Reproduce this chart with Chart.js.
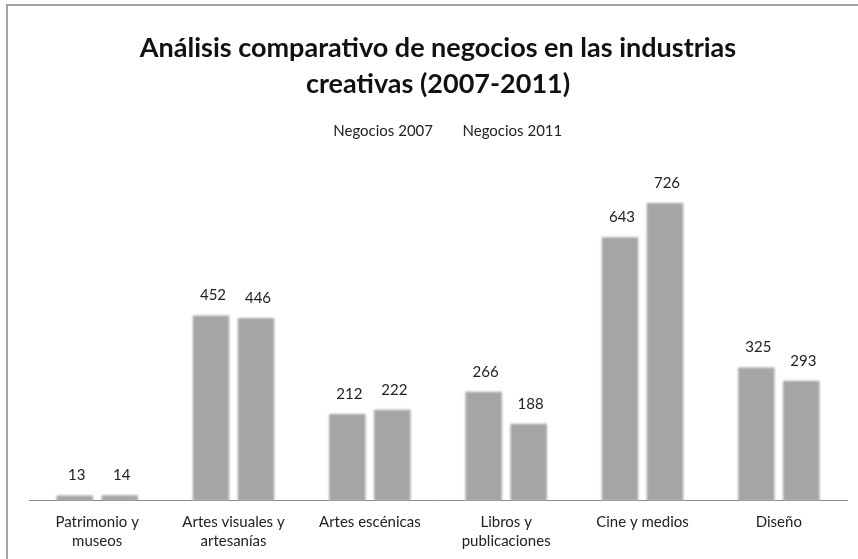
<!DOCTYPE html>
<html>
<head>
<meta charset="utf-8">
<script src="https://cdn.jsdelivr.net/npm/chart.js@4/dist/chart.umd.min.js"></script>
<style>
  html, body { margin: 0; padding: 0; background: #fff; }
  #wrap { width: 858px; height: 559px; }
</style>
</head>
<body>
<div id="wrap"><canvas id="chart" width="858" height="559"></canvas></div>
<script>
const categories = [
    ['Patrimonio y', 'museos'],
    ['Artes visuales y', 'artesanías'],
    'Artes escénicas',
    ['Libros y', 'publicaciones'],
    'Cine y medios',
    'Diseño',
];
const negocios2007 = [13, 452, 212, 266, 643, 325];
const negocios2011 = [14, 446, 222, 188, 726, 293];
const seriesNames = ['Negocios 2007', 'Negocios 2011'];
const titleLines = [
    'Análisis comparativo de negocios en las industrias',
    'creativas (2007-2011)',
];

const font = 'Lato, "Open Sans", sans-serif';
const barGray = '#a5a5a5';

// Grey frame around the whole chart.
const frame = {
    id: 'frame',
    beforeDraw(chart) {
        const ctx = chart.ctx;
        ctx.save();
        ctx.strokeStyle = '#a3a3a3';
        ctx.lineWidth = 2;
        ctx.strokeRect(7, 5, chart.width + 10, chart.height + 10);
        ctx.restore();
    },
};

// Soft edges on the bars.
const softBars = {
    id: 'soft-bars',
    beforeDatasetsDraw(chart) {
        chart.ctx.save();
        chart.ctx.filter = 'blur(1.3px)';
    },
    afterDatasetsDraw(chart) {
        chart.ctx.restore();
    },
};

// Value labels above each bar.
const valueLabels = {
    id: 'value-labels',
    afterDatasetsDraw(chart) {
        const ctx = chart.ctx;
        ctx.save();
        ctx.font = `15px ${font}`;
        ctx.fillStyle = '#222';
        ctx.textAlign = 'center';
        ctx.textBaseline = 'middle';
        chart.data.datasets.forEach((ds, di) => {
            const md = chart.getDatasetMeta(di);
            md.data.forEach((bar, i) => {
                ctx.fillText(`${ds.data[i]}`, bar.x + 2, bar.y - 20);
            });
        });
        ctx.restore();
    },
};

new Chart(document.getElementById('chart'), {
    type: 'bar',
    data: {
        labels: categories,
        datasets: [
            {label: seriesNames[0], data: negocios2007, backgroundColor: barGray},
            {label: seriesNames[1], data: negocios2011, backgroundColor: barGray},
        ],
    },
    plugins: [frame, softBars, valueLabels],
    options: {
        responsive: false,
        animation: false,
        layout: {padding: {top: 30, left: 29, right: 11, bottom: -4}},
        datasets: {
            bar: {categoryPercentage: 0.66, barPercentage: 0.81},
        },
        scales: {
            x: {
                grid: {display: false, drawTicks: false},
                border: {display: true, color: '#8c8c8c', width: 1},
                ticks: {
                    color: '#222', padding: 12, maxRotation: 0, autoSkip: false,
                    font: {family: font, size: 15, lineHeight: 1.27},
                },
            },
            y: {display: false, min: 0, max: 858},
        },
        plugins: {
            title: {
                display: true,
                text: titleLines,
                color: '#111',
                padding: {top: 0, bottom: 12},
                font: {family: font, size: 27, weight: 'bold', lineHeight: 1.333},
            },
            legend: {
                display: true,
                labels: {
                    color: '#222', boxWidth: 12, padding: 10,
                    font: {family: font, size: 15},
                    generateLabels(chart) {
                        const items = Chart.defaults.plugins.legend.labels
                            .generateLabels(chart);
                        for (const it of items) {
                            it.fillStyle = 'rgba(0,0,0,0)';
                            it.strokeStyle = 'rgba(0,0,0,0)';
                            it.lineWidth = 0;
                        }
                        return items;
                    },
                },
            },
            tooltip: {enabled: false},
        },
    },
});
</script>
</body>
</html>
